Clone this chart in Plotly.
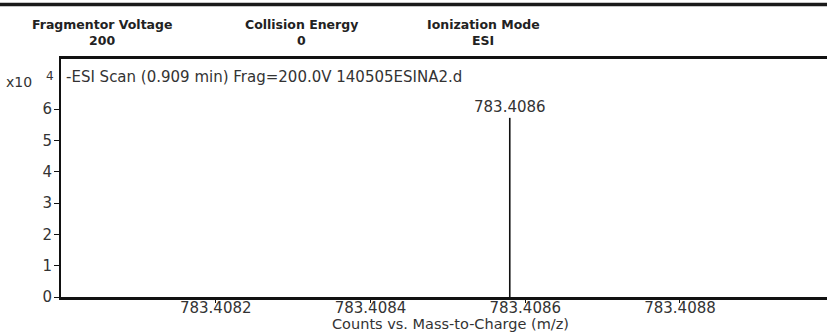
import plotly.graph_objects as go

# Spectrum data: centroid m/z and abundance (counts)
mz_values = [783.40858]
counts = [57200]

# Axis ticks
x_ticks = [783.4082, 783.4084, 783.4086, 783.4088]
y_ticks = [0, 10000, 20000, 30000, 40000, 50000, 60000]
y_tick_text = ["0", "1", "2", "3", "4", "5", "6"]

# Acquisition parameters shown in the header
param_names = ["Fragmentor Voltage", "Collision Energy", "Ionization Mode"]
param_values = ["200", "0", "ESI"]
param_centers = [102, 301, 483]

scan_title = "-ESI Scan (0.909 min) Frag=200.0V 140505ESINA2.d"
x_title = "Counts vs. Mass-to-Charge (m/z)"

W, H = 827, 333
ML, MR, MT, MB = 61, 0, 59, 36
PW, PH = W - ML - MR, H - MT - MB


def px(x):
    return (x - ML) / PW


def py(y):
    return (H - MB - y) / PH


# Stick spectrum: one vertical segment per peak
sx, sy = [], []
for m, c in zip(mz_values, counts):
    sx += [m, m, None]
    sy += [0, c, None]

fig = go.Figure()
fig.add_trace(go.Scatter(x=sx, y=sy, mode="lines",
                         line=dict(color="#111111", width=1.6),
                         hoverinfo="skip", showlegend=False))

font_main = dict(family="DejaVu Sans", size=15, color="#333333")
font_exp = dict(family="DejaVu Sans", size=12, color="#333333")
font_head = dict(family="DejaVu Sans", size=12.5, color="#222222")

ann = []
for m, c in zip(mz_values, counts):
    ann.append(dict(x=m, y=c, xref="x", yref="y", text=f"{m:.4f}",
                    showarrow=False, xanchor="center", yanchor="bottom",
                    yshift=0, font=font_main))

for name, val, cx in zip(param_names, param_values, param_centers):
    ann.append(dict(x=px(cx), y=py(24), xref="paper", yref="paper",
                    text=f"<b>{name}</b>", showarrow=False,
                    xanchor="center", yanchor="middle", font=font_head))
    ann.append(dict(x=px(cx), y=py(40), xref="paper", yref="paper",
                    text=f"<b>{val}</b>", showarrow=False,
                    xanchor="center", yanchor="middle", font=font_head))

ann.append(dict(x=px(64), y=py(77), xref="paper", yref="paper",
                text=scan_title, showarrow=False, xanchor="left",
                yanchor="middle", font=font_main))
# Scale factor of the intensity axis
ann.append(dict(x=px(34), y=py(82), xref="paper", yref="paper",
                text="x10", showarrow=False, xanchor="right",
                yanchor="middle", font=dict(font_main, size=14)))
ann.append(dict(x=px(50), y=py(76), xref="paper", yref="paper",
                text="4", showarrow=False, xanchor="center",
                yanchor="middle", font=font_exp))
ann.append(dict(x=px(450), y=py(324), xref="paper", yref="paper",
                text=x_title, showarrow=False, xanchor="center",
                yanchor="middle", font=dict(font_main, size=14.5)))

fig.update_layout(
    width=W, height=H,
    margin=dict(l=ML, r=MR, t=MT, b=MB, pad=0),
    paper_bgcolor="white", plot_bgcolor="white",
    annotations=ann,
    shapes=[dict(type="line", xref="paper", yref="paper",
                 x0=px(0), x1=px(W), y0=py(4.5), y1=py(4.5),
                 line=dict(color="#1a1a1a", width=3.5))],
)

fig.update_xaxes(range=[783.4080, 783.40899], tickvals=x_ticks,
                 tickformat=".4f", ticks="outside", ticklen=3,
                 tickwidth=1.2, tickcolor="#111111",
                 showline=True, linecolor="#111111", linewidth=2.5,
                 mirror=True, showgrid=False, zeroline=False,
                 ticklabelstandoff=-8, tickfont=font_main)
fig.update_yaxes(range=[0, 76000], tickvals=y_ticks, ticktext=y_tick_text,
                 ticks="outside", ticklen=5, tickwidth=1.2,
                 tickcolor="#111111", showline=True, linecolor="#111111",
                 linewidth=2, showgrid=False, zeroline=False,
                 ticklabelstandoff=-1, tickfont=font_main)

fig.write_html("out.html")
